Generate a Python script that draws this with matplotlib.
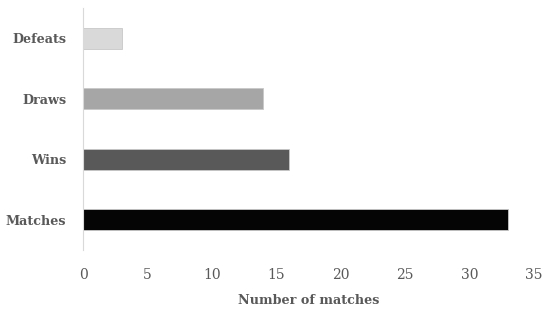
import matplotlib.pyplot as plt

categories = ['Matches', 'Wins', 'Draws', 'Defeats']
values = [33, 16, 14, 3]
colors = ['#050505', '#595959', '#a6a6a6', '#d9d9d9']
xticks = [0, 5, 10, 15, 20, 25, 30, 35]

plt.rcParams['font.family'] = ['DejaVu Serif']
text_color = '#595959'

fig = plt.figure(figsize=(5.5, 3.12), dpi=100)
ax = fig.add_axes([0.151, 0.199, 0.82, 0.775])

ax.barh(range(len(categories)), values, height=0.35, color=colors,
        edgecolor='#c8c8c8', linewidth=0.6)

ax.set_xlim(0, 35)
ax.set_ylim(-0.5, len(categories) - 0.5)
ax.set_xticks(xticks)
ax.set_yticks(range(len(categories)))
ax.set_yticklabels(categories, fontweight='bold', fontsize=9.2)
ax.tick_params(axis='both', length=0, colors=text_color)
ax.tick_params(axis='x', pad=13, labelsize=10)
ax.tick_params(axis='y', pad=12)

for side in ['top', 'right', 'bottom']:
    ax.spines[side].set_visible(False)
ax.spines['left'].set_color('#d9d9d9')

ax.set_xlabel('Number of matches', fontweight='bold', color=text_color,
              fontsize=9.2, labelpad=9)

fig.savefig('out.png', dpi=100)
